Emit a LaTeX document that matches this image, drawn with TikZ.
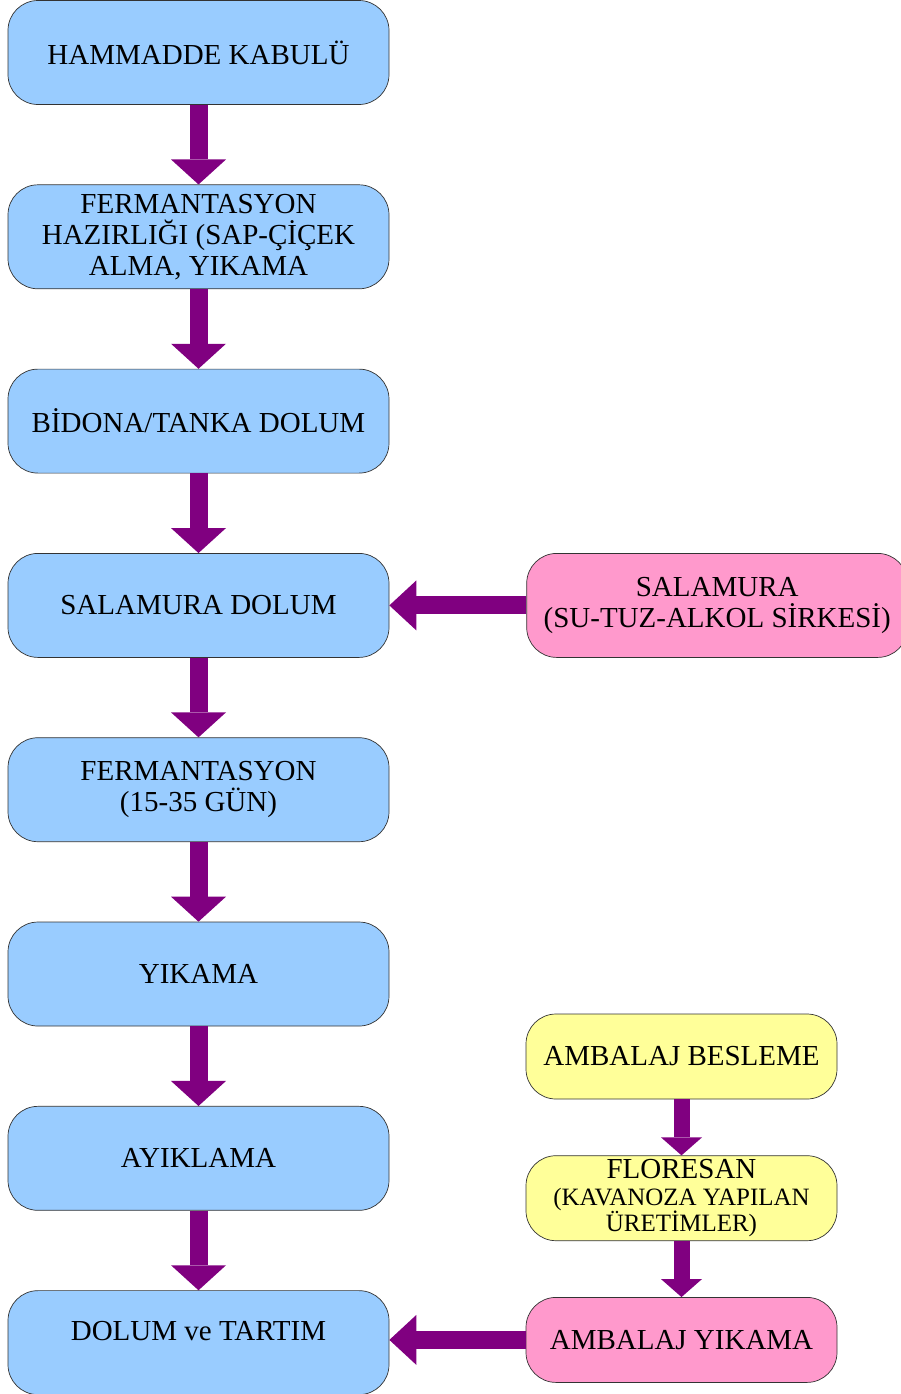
\documentclass[tikz,border=0pt]{standalone}
\usepackage{fontspec}
\setmainfont{Liberation Serif}
\usepackage{xcolor}
\usetikzlibrary{arrows.meta, positioning}

\definecolor{boxblue}{HTML}{99CCFF}
\definecolor{boxpink}{HTML}{FF99CC}
\definecolor{boxyellow}{HTML}{FFFF99}
\definecolor{arrowpurple}{HTML}{800080}

\begin{document}
\begin{tikzpicture}[
  every node/.style={rounded corners=0.6cm, draw=black!80, thin, align=center,
    font=\fontsize{16.5}{17.6}\selectfont},
  node distance=1.592cm,
  bluebox/.style={fill=boxblue, minimum width=7.62cm, minimum height=2.08cm},
  pinkbox/.style={fill=boxpink, minimum width=7.62cm, minimum height=2.08cm},
  yellowbox/.style={fill=boxyellow, minimum width=6.22cm, minimum height=1.7cm},
  downarrow/.style={line width=0.36cm, draw=arrowpurple,
    -{Triangle[width=1.1cm, length=0.5cm, line width=0pt]}},
  sidearrow/.style={line width=0.36cm, draw=arrowpurple,
    -{Triangle[width=1.0cm, length=0.54cm, line width=0pt]}},
  smallarrow/.style={line width=0.32cm, draw=arrowpurple,
    -{Triangle[width=0.82cm, length=0.36cm, line width=0pt]}}
]
\useasboundingbox (0,0) rectangle (18.02,-27.88);

% main line
\node[bluebox] (kabul) at (3.97,-1.05) {HAMMADDE KABULÜ};
\node[bluebox, below=of kabul] (hazirlik) {FERMANTASYON\\HAZIRLIĞI (SAP-ÇİÇEK\\ALMA, YIKAMA};
\node[bluebox, below=of hazirlik] (bidon) {BİDONA/TANKA DOLUM};
\node[bluebox, below=of bidon] (saldolum) {SALAMURA DOLUM};
\node[bluebox, below=of saldolum] (ferm) {FERMANTASYON\\(15-35 GÜN)};
\node[bluebox, below=of ferm] (yikama) {YIKAMA};
\node[bluebox, below=of yikama] (ayiklama) {AYIKLAMA};
\node[bluebox, below=of ayiklama, label={[draw=none, yshift=0.24cm]center:DOLUM ve TARTIM}] (dolum) {};

% side inputs
\node[pinkbox, right=2.74cm of saldolum] (salamura) {SALAMURA\\(SU-TUZ-ALKOL SİRKESİ)};
\node[yellowbox] (besleme) at (13.63,-21.13) {AMBALAJ BESLEME};
\node[yellowbox, below=1.12cm of besleme, inner ysep=0pt, font=\fontsize{14.2}{15.2}\selectfont] (floresan)
  {{\fontsize{16.5}{15.2}\selectfont FLORESAN}\\(KAVANOZA YAPILAN\\ÜRETİMLER)};
\node[yellowbox, fill=boxpink, below=1.12cm of floresan] (ambyikama) {AMBALAJ YIKAMA};

\draw[downarrow] (kabul) -- (hazirlik);
\draw[downarrow] (hazirlik) -- (bidon);
\draw[downarrow] (bidon) -- (saldolum);
\draw[downarrow] (saldolum) -- (ferm);
\draw[downarrow] (ferm) -- (yikama);
\draw[downarrow] (yikama) -- (ayiklama);
\draw[downarrow] (ayiklama) -- (dolum);

\draw[sidearrow] (salamura) -- (saldolum);
\draw[smallarrow] (besleme) -- (floresan);
\draw[smallarrow] (floresan) -- (ambyikama);
\draw[sidearrow] (ambyikama.west) -- (ambyikama.west -| dolum.east);
\end{tikzpicture}
\end{document}
